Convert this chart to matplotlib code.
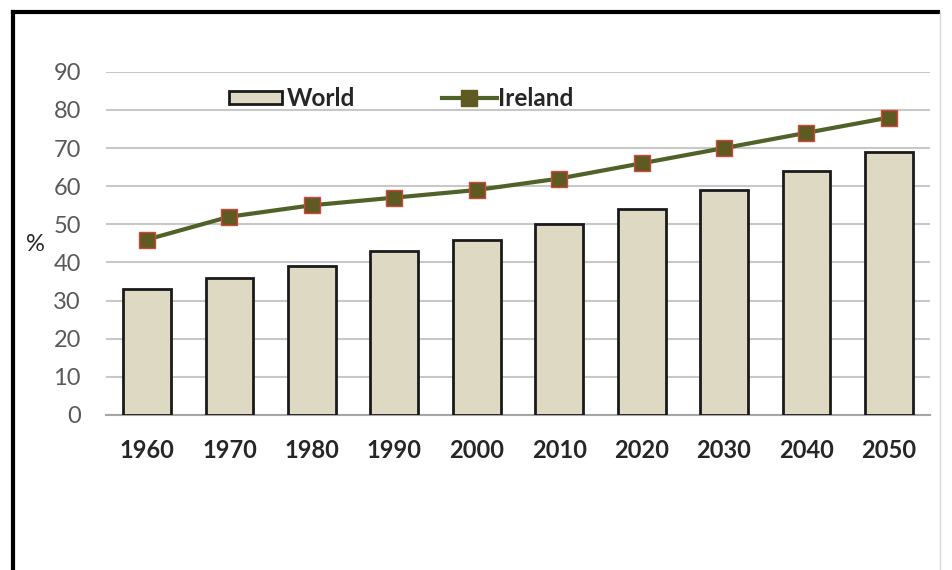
import matplotlib
matplotlib.use("Agg")
import matplotlib.pyplot as plt
from matplotlib.lines import Line2D
from matplotlib.patches import Rectangle
import numpy as np

plt.rcParams['font.family'] = ['Lato', 'DejaVu Sans']

years = ['1960', '1970', '1980', '1990', '2000', '2010', '2020', '2030', '2040', '2050']
world = [33, 36, 39, 43, 46, 50, 54, 59, 64, 69]
ireland = [46, 52, 55, 57, 59, 62, 66, 70, 74, 78]
yticks = [0, 10, 20, 30, 40, 50, 60, 70, 80, 90]

bar_color = '#DDD9C3'
edge_color = '#1a1a1a'
line_color = '#4F6228'
marker_face = '#5F5A22'

fig = plt.figure(figsize=(9.53, 5.70), dpi=100)
ax = fig.add_axes([0.111, 0.272, 0.865, 0.602])

x = np.arange(len(years))
ax.bar(x, world, width=0.58, color=bar_color, edgecolor=edge_color, linewidth=2,
       zorder=3)
ax.plot(x, ireland, color=line_color, linewidth=3, marker='s', markersize=12,
        markerfacecolor=marker_face, markeredgecolor='#D0473A', markeredgewidth=1,
        zorder=4)

ax.set_xlim(-0.5, len(years) - 0.5)
ax.set_ylim(0, 90)
ax.set_yticks(yticks)
ax.set_xticks(x)
ax.set_xticklabels(years, fontsize=17, fontweight='bold', color='#262626')
ax.tick_params(axis='y', labelsize=17, labelcolor='#595959', length=0, pad=18)
ax.tick_params(axis='x', length=0, pad=17)
ax.grid(axis='y', color='#C8C8C8', linewidth=1.5, zorder=0)
for s in ['top', 'right', 'left']:
    ax.spines[s].set_visible(False)
ax.spines['bottom'].set_color('#A6A6A6')
ax.spines['bottom'].set_linewidth(1.5)

ax.text(-0.085, 0.496, '%', transform=ax.transAxes, fontsize=17, color='#262626',
        ha='center', va='center')

# legend drawn by hand in figure coords
tf = fig.transFigure
fig.add_artist(Rectangle((0.240, 0.817), 0.056, 0.024, facecolor=bar_color,
                         edgecolor=edge_color, linewidth=2, transform=tf))
fig.text(0.301, 0.828, 'World', fontsize=17.5, fontweight='bold', color='#262626',
         ha='left', va='center')
fig.add_artist(Line2D([0.464, 0.521], [0.828, 0.828], color=line_color, linewidth=3,
                      transform=tf))
fig.add_artist(Line2D([0.492], [0.828], marker='s', markersize=11, color=marker_face,
                      transform=tf))
fig.text(0.523, 0.828, 'Ireland', fontsize=17.5, fontweight='bold', color='#262626',
         ha='left', va='center')

# frame around the picture
fig.add_artist(Line2D([0.014, 0.014], [0, 0.979], color='black', linewidth=3,
                      transform=tf))
fig.add_artist(Line2D([0.014, 0.984], [0.979, 0.979], color='black', linewidth=3,
                      transform=tf))
fig.add_artist(Line2D([0.986, 0.986], [0, 0.979], color='#D9D9D9', linewidth=1,
                      transform=tf))

fig.savefig('out.png', dpi=100)
